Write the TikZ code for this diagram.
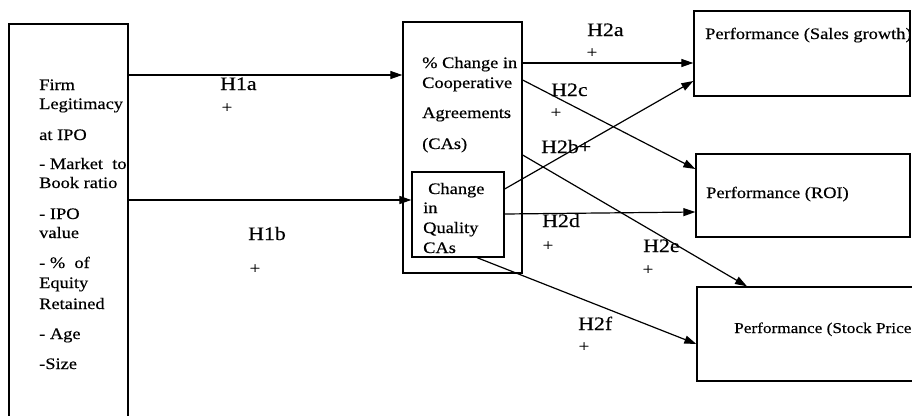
\documentclass[tikz,border=0pt]{standalone}
\usepackage{fontspec}
\setmainfont{Liberation Serif}[FakeStretch=1.15,FakeBold=0.4]
\usetikzlibrary{arrows.meta}
\tikzset{
  box/.style={draw, line width=1.3pt, inner sep=0pt},
  txt/.style={anchor=base west, inner sep=0pt, font=\fontsize{16}{18}\selectfont},
  lbl/.style={anchor=base west, inner sep=0pt, font=\fontsize{19}{21}\selectfont},
  pls/.style={inner sep=0pt, font=\fontsize{16}{18}\selectfont},
  arr/.style={line width=1.2pt, -{Triangle[length=12pt,width=8pt]}},
  ln/.style={line width=1.2pt}
}
\begin{document}
\begin{tikzpicture}[x=1pt,y=-1pt]
\useasboundingbox (0,0) rectangle (912,415);
\clip (0,0) rectangle (912,415);
% boxes
\node[box, minimum width=119pt, minimum height=416pt] (left) at (68.5,232) {};
\node[box, minimum width=119pt, minimum height=251pt] (outer) at (462.5,147.5) {};
\node[box, fill=white, minimum width=92pt, minimum height=85pt] (inner) at (458,214.5) {};
\node[box, minimum width=216pt, minimum height=85pt] (sales) at (802,53.5) {};
\node[box, minimum width=214pt, minimum height=83pt] (roi) at (803,195.5) {};
\node[box, minimum width=230pt, minimum height=94pt] (stock) at (812,334) {};
% left text
\node[txt] (l1) at (39,90) {Firm};
\node[txt] (l2) at (39,109) {Legitimacy};
\node[txt] (l3) at (39,140) {at IPO};
\node[txt] (l4) at (39,169) {- Market\ \ to};
\node[txt] (l5) at (39,188) {Book ratio};
\node[txt] (l6) at (39,219) {- IPO};
\node[txt] (l7) at (39,238) {value};
\node[txt] (l8) at (39,268) {- \%\ \ of};
\node[txt] (l9) at (39,288) {Equity};
\node[txt] (l10) at (39,309) {Retained};
\node[txt] (l11) at (39,339) {- Age};
\node[txt] (l12) at (39,369) {-Size};
% middle text
\node[txt] (m1) at (422,68) {\% Change in};
\node[txt] (m2) at (422,88) {Cooperative};
\node[txt] (m3) at (422,118) {Agreements};
\node[txt] (m4) at (422,149) {(CAs)};
\node[txt] (q1) at (428,194) {Change};
\node[txt] (q2) at (423,213) {in};
\node[txt] (q3) at (423,233) {Quality};
\node[txt] (q4) at (423,253) {CAs};
% performance text
\node[txt] (p1) at (705,39) {Performance (Sales growth)};
\node[txt] (p2) at (706,198) {Performance (ROI)};
\node[txt, font=\fontsize{15}{17}\selectfont] (p3) at (734,333) {Performance (Stock Price};
% connectors
\draw[arr] (left.east |- 0,75) -- (outer.west |- 0,75);
\draw[arr] (left.east |- 0,200) -- (inner.west |- 0,200);
\draw[arr] (outer.east |- 0,63) -- (sales.west |- 0,63);
\draw[arr] (inner.east |- 0,189) -- (sales.west |- 0,81);
\draw[arr] (outer.east |- 0,80) -- (roi.west |- 0,169);
\draw[arr] (inner.east |- 0,214) -- (roi.west |- 0,212);
\draw[arr] (outer.east |- 0,155) -- (747,0 |- stock.north);
\draw[arr] (477,0 |- inner.south) -- (stock.west |- 0,344);
% labels
\node[lbl] (h1a) at (220,90) {H1a};
\node[pls] (h1ap) at (227,108) {+};
\node[lbl] (h1b) at (248,240) {H1b};
\node[pls] (h1bp) at (255,269) {+};
\node[lbl] (h2a) at (587,36) {H2a};
\node[pls] (h2ap) at (592,53) {+};
\node[lbl] (h2c) at (551,96) {H2c};
\node[pls] (h2cp) at (556,113) {+};
\node[lbl] (h2b) at (541,153) {H2b+};
\node[lbl] (h2d) at (542,227) {H2d};
\node[pls] (h2dp) at (548,246) {+};
\node[lbl] (h2e) at (643,252) {H2e};
\node[pls] (h2ep) at (648,270) {+};
\node[lbl] (h2f) at (578,330) {H2f};
\node[pls] (h2fp) at (584,347) {+};
\end{tikzpicture}
\end{document}
